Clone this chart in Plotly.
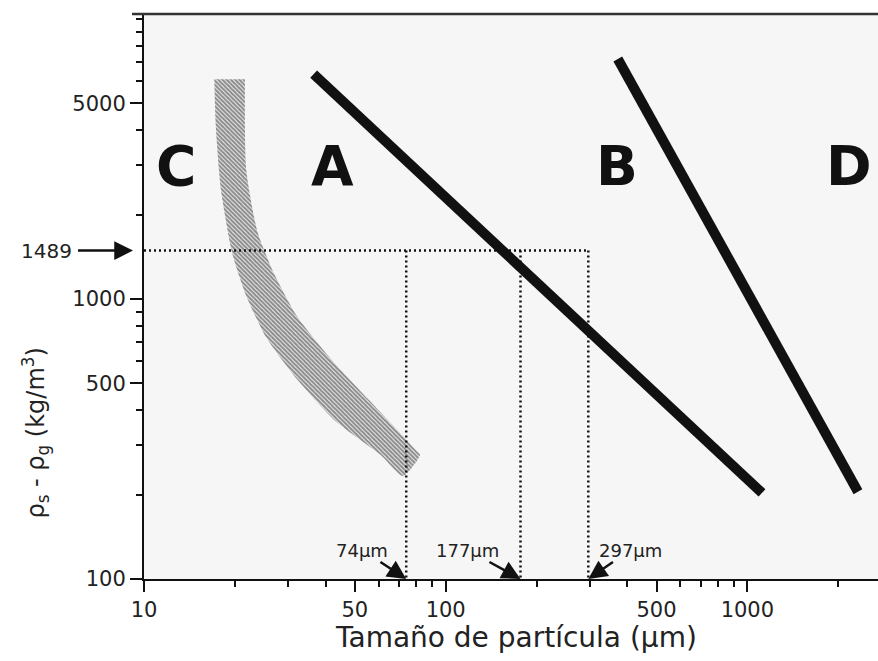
import math
import plotly.graph_objects as go

# ---- data ----
# Group C (cohesive) hatched band boundaries: particle size (um), rho_s - rho_g (kg/m3)
c_left_x = [17.1, 17.3, 18.0, 19.6, 21.8, 25.4, 32.1, 43.3, 60.9, 72.2]
c_left_y = [6100, 4130, 2450, 1460, 1030, 730, 518, 365, 277, 233]
c_right_x = [21.6, 21.8, 23.8, 27.0, 32.1, 41.4, 55.9, 80.3, 82.2]
c_right_y = [6100, 2920, 1730, 1230, 869, 615, 434, 286, 277]

# A/B boundary line
ab_x = [36.5, 1118]
ab_y = [6360, 203]
# B/D boundary line
bd_x = [372, 2326]
bd_y = [7200, 205]

# reference density and particle sizes
rho_ref = 1489
sizes = [74, 177, 297]
size_labels = ["74µm", "177µm", "297µm"]

# region letters
letters = ["C", "A", "B", "D"]
letter_x = [12.8, 42, 370, 2170]
letter_y = [2985, 2985, 2985, 2985]

x_major = [10, 50, 100, 500, 1000]
x_minor = [20, 30, 40, 60, 70, 80, 90, 200, 300, 400, 600, 700, 800, 900, 2000]
y_major = [100, 500, 1000, 5000]
y_minor = [200, 300, 400, 600, 700, 800, 900, 2000, 3000, 4000, 6000, 7000, 8000, 9000, 10000]

X_RANGE = [1, 3.433]
Y_RANGE = [2, 4.018]

FONT = "DejaVu Sans"
INK = "#111111"

fig = go.Figure()

# hatched band (group C limit)
fig.add_trace(go.Scatter(
    x=c_left_x + c_right_x[::-1],
    y=c_left_y + c_right_y[::-1],
    mode="lines", fill="toself",
    line=dict(width=0, color="rgba(0,0,0,0)", shape="spline", smoothing=0.6),
    fillcolor="rgba(0,0,0,0)",
    fillpattern=dict(shape="\\", size=3, solidity=0.7,
                     fgcolor="#222222", bgcolor="rgba(0,0,0,0)"),
    hoverinfo="skip", showlegend=False,
))

# dotted reference lines
fig.add_trace(go.Scatter(
    x=[10, max(sizes)], y=[rho_ref, rho_ref], mode="lines",
    line=dict(color=INK, width=2.5, dash="2px,3px"),
    hoverinfo="skip", showlegend=False,
))
for s in sizes:
    fig.add_trace(go.Scatter(
        x=[s, s], y=[rho_ref, 100], mode="lines",
        line=dict(color=INK, width=2.5, dash="2px,3px"),
        hoverinfo="skip", showlegend=False,
    ))

# boundary lines
for xs, ys in [(ab_x, ab_y), (bd_x, bd_y)]:
    fig.add_trace(go.Scatter(
        x=xs, y=ys, mode="lines",
        line=dict(color=INK, width=10),
        hoverinfo="skip", showlegend=False,
    ))

annotations = []
for t, lx, ly in zip(letters, letter_x, letter_y):
    annotations.append(dict(
        x=math.log10(lx), y=math.log10(ly), xref="x", yref="y",
        text="<b>%s</b>" % t, showarrow=False,
        font=dict(family=FONT, size=55, color=INK),
        xanchor="center", yanchor="middle",
    ))

# size labels with arrows pointing to the axis
offsets = [(-44, -29), (-53, -29), (42, -29)]
for s, lab, (ax, ay) in zip(sizes, size_labels, offsets):
    annotations.append(dict(
        x=math.log10(s), y=math.log10(100), xref="x", yref="y",
        text=lab, showarrow=True, ax=ax, ay=ay,
        arrowhead=2, arrowsize=1.5, arrowwidth=2.5, arrowcolor=INK,
        font=dict(family=FONT, size=18, color="#222222"),
    ))

# 1489 label with arrow
annotations.append(dict(
    x=-0.015, y=math.log10(rho_ref), xref="paper", yref="y",
    text=str(rho_ref), showarrow=True, ax=-86, ay=0, borderpad=5,
    arrowhead=2, arrowsize=1.5, arrowwidth=2.5, arrowcolor=INK,
    font=dict(family=FONT, size=20, color="#222222"),
))

# axis titles
annotations.append(dict(
    x=0.507, y=-0.104, xref="paper", yref="paper",
    text="Tamaño de partícula (µm)", showarrow=False,
    font=dict(family=FONT, size=28, color="#222222"),
    xanchor="center", yanchor="middle",
))
annotations.append(dict(
    x=-0.148, y=0.258, xref="paper", yref="paper",
    text="ρ<sub>s</sub> - ρ<sub>g</sub> (kg/m<sup>3</sup>)", showarrow=False,
    textangle=-90,
    font=dict(family=FONT, size=24, color="#222222"),
    xanchor="center", yanchor="middle",
))

fig.update_layout(
    width=878, height=661,
    margin=dict(l=144, r=0, t=14, b=82),
    paper_bgcolor="white", plot_bgcolor="#f6f6f6",
    showlegend=False,
    annotations=annotations,
    shapes=[dict(type="line", xref="paper", yref="paper",
                 x0=-0.0163, x1=1, y0=1, y1=1,
                 line=dict(color="#333333", width=2.5))],
    font=dict(family=FONT, color="#222222"),
)

fig.update_xaxes(
    type="log", range=X_RANGE, showgrid=False, zeroline=False,
    showline=True, linecolor=INK, linewidth=2,
    tickmode="array", tickvals=x_major, ticktext=[str(v) for v in x_major],
    ticks="outside", ticklen=11, tickwidth=2, tickcolor=INK,
    tickfont=dict(family=FONT, size=21, color="#222222"),
    minor=dict(tickmode="array", tickvals=x_minor, ticks="outside",
               ticklen=6, tickwidth=2, tickcolor=INK, showgrid=False),
)
fig.update_yaxes(
    type="log", range=Y_RANGE, showgrid=False, zeroline=False,
    showline=True, linecolor=INK, linewidth=2,
    tickmode="array", tickvals=y_major, ticktext=[str(v) for v in y_major],
    ticks="outside", ticklen=12, tickwidth=2, tickcolor=INK,
    tickfont=dict(family=FONT, size=21, color="#222222"),
    minor=dict(tickmode="array", tickvals=y_minor, ticks="outside",
               ticklen=6, tickwidth=2, tickcolor=INK, showgrid=False),
)

fig.write_html("out.html")
